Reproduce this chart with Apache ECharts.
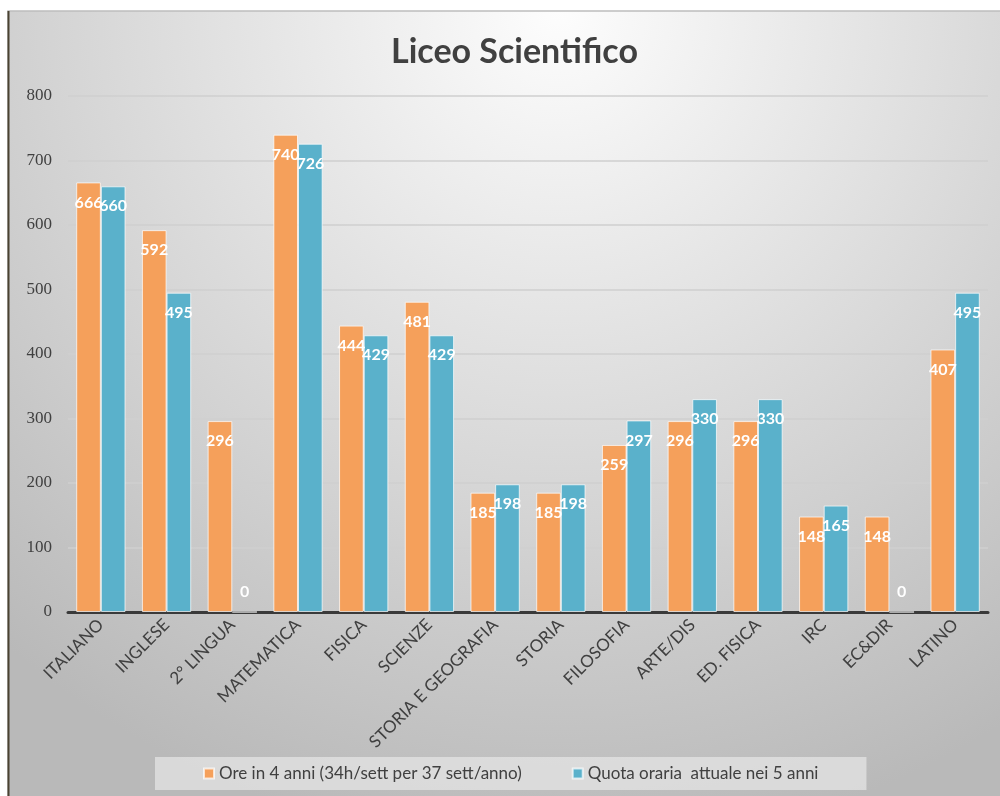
<!DOCTYPE html>
<html>
<head>
<meta charset="utf-8">
<script src="https://cdn.jsdelivr.net/npm/echarts@6/dist/echarts.min.js"></script>
<style>html,body{margin:0;padding:0;background:#fff;}#c{width:1000px;height:796px;}</style>
</head>
<body>
<div id="c"></div>
<script>
const categories = ['ITALIANO','INGLESE','2° LINGUA','MATEMATICA','FISICA','SCIENZE','STORIA E GEOGRAFIA','STORIA','FILOSOFIA','ARTE/DIS','ED. FISICA','IRC','EC&DIR','LATINO'];
const ore4anni = [666,592,296,740,444,481,185,185,259,296,296,148,148,407];
const quota5anni = [660,495,0,726,429,429,198,198,297,330,330,165,0,495];
const seriesNames = ['Ore in 4 anni (34h/sett per 37 sett/anno)','Quota oraria  attuale nei 5 anni'];
const titleText = 'Liceo Scientifico';

const chart = echarts.init(document.getElementById('c'), null, {renderer:'canvas'});
function mk(vals){
  return vals.map(v => v === 0 ? {value:v, label:{position:'top'}} : v);
}
const labelStyle = {show:true, position:'insideTop', distance:12, color:'#fff', fontWeight:'bold', fontSize:16, fontFamily:'Lato'};
chart.setOption({
  backgroundColor:'#ffffff',
  animation:false,
  graphic:[
    {type:'rect', z:-100, silent:true, shape:{x:8, y:11, width:1000, height:800},
     style:{fill:new echarts.graphic.RadialGradient(0.55,0.0,1.05,[{offset:0,color:'#fdfdfd'},{offset:1,color:'#b9b9b9'}]), stroke:'#bdbdbd', lineWidth:1.5}},
    {type:'line', z:-99, silent:true, shape:{x1:8.5, y1:11, x2:8.5, y2:796}, style:{stroke:'#4a4332', lineWidth:2}}
  ],
  title:{text:titleText, left:386, top:30, textStyle:{fontFamily:'Lato', fontSize:34, fontWeight:'bold', color:'#404040'}},
  grid:{left:68, right:12, top:96, bottom:184, containLabel:false},
  legend:{
    left:155, top:757, itemWidth:10, itemHeight:10, itemGap:50,
    padding:[8,48,8,48], backgroundColor:'rgba(228,228,228,0.75)',
    icon:'rect',
    textStyle:{fontFamily:'Lato', fontSize:17, color:'#404040'},
    data:seriesNames
  },
  xAxis:{
    type:'category', data:categories,
    axisLine:{lineStyle:{color:'#3a3a3a', width:3}},
    axisTick:{show:false},
    axisLabel:{rotate:45, interval:0, fontFamily:'Lato', fontSize:17, color:'#404040', margin:10}
  },
  yAxis:{
    type:'value', min:0, max:800, interval:100,
    axisLine:{show:false}, axisTick:{show:false},
    splitLine:{lineStyle:{color:'#cfcfcf', width:1.5}},
    axisLabel:{fontFamily:'Liberation Serif', fontSize:17, color:'#404040', margin:16}
  },
  series:[
    {name:seriesNames[0], type:'bar', data:mk(ore4anni), barGap:'0%', barCategoryGap:'25%',
     itemStyle:{color:'#F5A05B', borderColor:'rgba(255,255,255,0.7)', borderWidth:1}, label:labelStyle},
    {name:seriesNames[1], type:'bar', data:mk(quota5anni),
     itemStyle:{color:'#5AB1CB', borderColor:'rgba(255,255,255,0.7)', borderWidth:1}, label:labelStyle}
  ]
});
</script>
</body>
</html>
